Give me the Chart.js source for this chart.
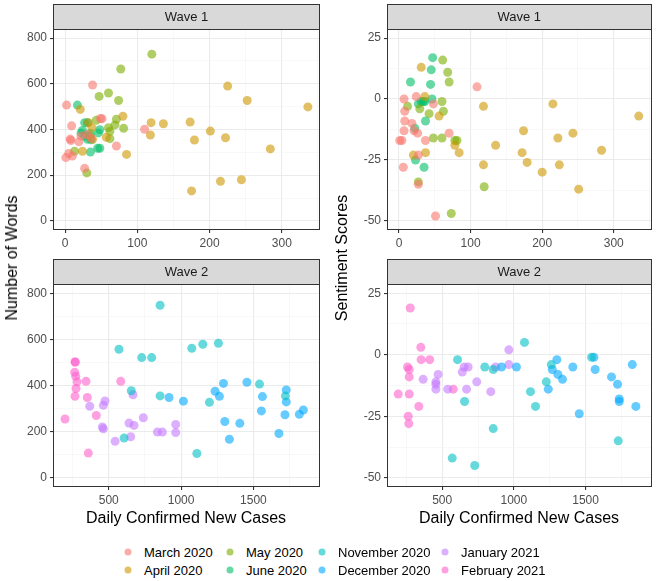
<!DOCTYPE html>
<html>
<head>
<meta charset="utf-8">
<script src="https://cdn.jsdelivr.net/npm/chart.js@4/dist/chart.umd.min.js"></script>
<style>
  body { margin: 0; background: #fff; }
  #wrap { position: relative; width: 656px; height: 581px; font-family: "Liberation Sans", Arial, sans-serif; }
  canvas { position: absolute; }
  .title { position: absolute; font-size: 16px; color: #000; white-space: nowrap; transform: translate(-50%, -50%); }
  .ytitle { transform: translate(-50%, -50%) rotate(-90deg); }
  .key { position: absolute; width: 7px; height: 7px; border-radius: 50%; transform: translate(-50%, -50%); }
  .lab { position: absolute; font-size: 13px; color: #000; white-space: nowrap; transform: translateY(-50%); }
</style>
</head>
<body>
<div id="wrap">
  <canvas id="chart__1" width="328" height="256" style="left:0;top:0"></canvas>
  <canvas id="chart__2" width="323" height="256" style="left:333px;top:0"></canvas>
  <canvas id="chart__3" width="328" height="258" style="left:0;top:256px"></canvas>
  <canvas id="chart__4" width="323" height="258" style="left:333px;top:256px"></canvas>
  <div class="title ytitle" style="left:12px;top:258px">Number of Words</div>
  <div class="title ytitle" style="left:342px;top:258px">Sentiment Scores</div>
  <div class="title" style="left:186px;top:518px">Daily Confirmed New Cases</div>
  <div class="title" style="left:519px;top:518px">Daily Confirmed New Cases</div>
  <div id="legend"></div>
</div>
<script>
"use strict";

const months = ["March 2020", "April 2020", "May 2020", "June 2020",
  "November 2020", "December 2020", "January 2021", "February 2021"];
const monthColors = ["rgba(248,118,109,0.6)", "rgba(205,150,0,0.6)", "rgba(124,174,0,0.6)", "rgba(0,190,103,0.6)",
  "rgba(0,191,196,0.6)", "rgba(0,169,255,0.6)", "rgba(199,124,255,0.6)", "rgba(255,97,204,0.6)"];

// [daily confirmed new cases, value]
const w1WordsMarch = [[2,507],[38,595],[9,416],[7,358],[8,352],[19,346],[1,277],[5,295],[10,284],[27,230],[49,448],[51,447],[71,328],[110,401],[22,372],[30,378],[36,362]];
const w1WordsApril = [[21,488],[225,590],[252,527],[336,499],[119,430],[136,425],[173,433],[201,393],[118,376],[179,354],[222,364],[284,315],[85,291],[80,458],[57,366],[24,305],[175,131],[215,173],[244,180],[32,430],[37,408],[38,357]];
const w1WordsMay = [[120,730],[77,665],[60,560],[47,545],[74,527],[71,445],[69,420],[60,408],[62,392],[81,405],[62,360],[30,210],[13,305],[43,440],[34,372]];
const w1WordsJune = [[17,507],[27,430],[31,430],[24,396],[22,385],[35,383],[48,399],[46,385],[35,301],[45,318],[48,318],[31,357],[36,355],[27,370]];

const w1SentMarch = [[109,5],[7,0],[24,1],[8,-5],[8,-9],[18,-10],[21,-13],[26,-14],[7,-13],[1,-17],[4,-17],[37,-17],[48,-2],[70,-14],[27,-23],[6,-28],[27,-35],[51,-48]];
const w1SentApril = [[31,13],[36,1],[56,-7],[118,-3],[215,-2],[335,-7],[174,-13],[222,-16],[243,-14],[135,-19],[78,-19],[84,-22],[172,-22],[283,-21],[179,-26],[118,-27],[224,-27],[200,-30],[251,-37],[20,-23],[37,-22]];
const w1SentMay = [[61,16],[68,11],[70,7],[60,-1],[62,-5],[42,-6],[12,-3],[29,-4],[48,-16],[60,-16],[78,-17],[81,-17],[27,-34],[73,-47],[119,-36]];
const w1SentJune = [[47,17],[45,12],[16,7],[44,6],[46,0],[31,-1],[34,-1],[36,-1],[27,-2],[37,-9],[22,-12],[23,-25],[35,-28]];

const w2WordsNov = [[855,748],[571,557],[728,521],[797,521],[656,377],[855,355],[606,172],[1074,561],[1150,579],[1258,583],[1542,406],[1196,327],[1109,105],[1721,355]];
const w2WordsDec = [[917,348],[1016,332],[1235,375],[1265,353],[1293,409],[1455,414],[1562,352],[1555,290],[1302,244],[1406,236],[1334,167],[1676,192],[1727,381],[1727,329],[1718,273],[1817,275],[1845,294]];
const w2WordsJan = [[369,310],[463,314],[474,333],[456,220],[463,212],[544,158],[640,237],[675,227],[652,178],[668,360],[739,260],[836,198],[871,198],[963,231],[963,196]];
const w2WordsFeb = [[198,255],[267,503],[269,501],[265,457],[272,440],[281,416],[274,387],[267,353],[343,418],[352,348],[414,270],[359,107],[583,418]];

const w2SentNov = [[607,-2],[797,-5],[856,-6],[656,-19],[856,-30],[570,-42],[727,-45],[1074,5],[1261,-4],[1226,-11],[1116,-15],[1151,-21],[1542,-1],[1728,-35]];
const w2SentDec = [[914,-5],[1018,-5],[1300,-2],[1268,-6],[1307,-8],[1339,-10],[1240,-14],[1411,-5],[1558,-1],[1567,-6],[1456,-24],[1681,-9],[1723,-12],[1735,-18],[1735,-19],[1826,-4],[1851,-21]];
const w2SentJan = [[367,-10],[472,-8],[456,-11],[456,-12],[456,-14],[539,-14],[640,-7],[653,-5],[681,-5],[670,-14],[741,-11],[839,-15],[872,-5],[965,2],[965,-4]];
const w2SentFeb = [[277,19],[351,3],[353,-2],[413,-2],[258,-5],[270,-6],[270,-9],[193,-16],[270,-16],[337,-21],[263,-25],[267,-28],[577,-14]];

// axis breaks
const wordsTicks = [0, 200, 400, 600, 800];
const sentTicks = [-50, -25, 0, 25];
const wave1Ticks = [0, 100, 200, 300];
const wave2Ticks = [500, 1000, 1500];

Chart.defaults.font.family = '"Liberation Sans", Arial, sans-serif';

// grey strip above the panel and a dark frame round it
const facetFrame = {
  id: "facetFrame",
  afterDraw(chart, args, opts) {
    const { ctx, chartArea: a } = chart;
    ctx.save();
    ctx.fillStyle = "#D9D9D9";
    ctx.fillRect(a.left, a.top - 25, a.right - a.left, 25);
    ctx.strokeStyle = "#333333";
    ctx.lineWidth = 1;
    ctx.strokeRect(Math.round(a.left) + 0.5, Math.round(a.top) - 24.5, Math.round(a.right - a.left) - 1, 25);
    ctx.strokeRect(Math.round(a.left) + 0.5, Math.round(a.top) + 0.5, Math.round(a.right - a.left) - 1, Math.round(a.bottom - a.top) - 1);
    ctx.fillStyle = "#1A1A1A";
    ctx.font = '13px "Liberation Sans", Arial, sans-serif';
    ctx.textAlign = "center";
    ctx.textBaseline = "middle";
    ctx.fillText(opts.text, (a.left + a.right) / 2, a.top - 12);
    ctx.restore();
  },
};

function makeAxis(min, max, majors, fit) {
  const minors = [];
  const step = majors[1] - majors[0];
  for (let v = majors[0] - step / 2; v <= max; v += step) {
    if (v >= min && !majors.includes(v)) minors.push(v);
  }
  const isMajor = (c) => c.tick && majors.includes(c.tick.value);
  return {
    min: min,
    max: max,
    afterBuildTicks: (scale) => {
      scale.ticks = majors.concat(minors).sort((p, q) => p - q).map((v) => ({ value: v }));
    },
    afterFit: fit,
    border: { display: false },
    grid: {
      color: (c) => (isMajor(c) ? "#EBEBEB" : "#F3F3F3"),
      lineWidth: (c) => (isMajor(c) ? 1.1 : 0.6),
      tickColor: (c) => (isMajor(c) ? "#333333" : "rgba(0,0,0,0)"),
      tickLength: 3,
    },
    ticks: {
      autoSkip: false,
      maxRotation: 0,
      padding: 3,
      color: "#4D4D4D",
      font: { size: 12 },
      callback: (v) => (majors.includes(v) ? String(v) : ""),
    },
  };
}

function makePanel(id, label, series, names, colors, xAxis, yAxis, padRight, padTop, yWidth, xHeight) {
  const datasets = series.map((s, i) => ({
    label: names[i],
    data: s,
    backgroundColor: colors[i],
    borderWidth: 0,
    pointRadius: 4.5,
    pointHoverRadius: 4.5,
  }));
  return new Chart(document.getElementById(id).getContext("2d"), {
    type: "scatter",
    data: { datasets: datasets },
    options: {
      responsive: false,
      animation: false,
      layout: { padding: { top: padTop, right: padRight, left: 0, bottom: 0 } },
      plugins: { legend: { display: false }, tooltip: { enabled: false }, facetFrame: { text: label } },
      scales: {
        x: makeAxis(xAxis[0], xAxis[1], xAxis[2], (s) => { s.height = xHeight; }),
        y: makeAxis(yAxis[0], yAxis[1], yAxis[2], (s) => { s.width = yWidth; }),
      },
    },
    plugins: [facetFrame],
  });
}

const wave1X = [-16.8, 352.8, wave1Ticks];
const wave2X = [115, 1960, wave2Ticks];
const wordsY = [-40, 840, wordsTicks];
const sentY = [-53.75, 28.75, sentTicks];

const chart__1 = makePanel("chart__1", "Wave 1", [w1WordsMarch, w1WordsApril, w1WordsMay, w1WordsJune],
  months.slice(0, 4), monthColors.slice(0, 4), wave1X, wordsY, 8, 29, 53, 26);
const chart__2 = makePanel("chart__2", "Wave 1", [w1SentMarch, w1SentApril, w1SentMay, w1SentJune],
  months.slice(0, 4), monthColors.slice(0, 4), wave1X, sentY, 4, 29, 54, 26);
const chart__3 = makePanel("chart__3", "Wave 2", [w2WordsNov, w2WordsDec, w2WordsJan, w2WordsFeb],
  months.slice(4), monthColors.slice(4), wave2X, wordsY, 8, 28, 53, 27);
const chart__4 = makePanel("chart__4", "Wave 2", [w2SentNov, w2SentDec, w2SentJan, w2SentFeb],
  months.slice(4), monthColors.slice(4), wave2X, sentY, 4, 28, 54, 27);

// legend: 4 columns, 2 rows, filled by column
const legendKeyX = [128, 230, 322, 445];
const legendRowY = [552, 570];
const legend = document.getElementById("legend");
months.forEach((m, i) => {
  const col = Math.floor(i / 2);
  const row = i % 2;
  const key = document.createElement("div");
  key.className = "key";
  key.style.left = legendKeyX[col] + "px";
  key.style.top = legendRowY[row] + "px";
  key.style.background = monthColors[i];
  legend.appendChild(key);
  const lab = document.createElement("div");
  lab.className = "lab";
  lab.style.left = legendKeyX[col] + 16 + "px";
  lab.style.top = legendRowY[row] + "px";
  lab.textContent = m;
  legend.appendChild(lab);
});
</script>
</body>
</html>
